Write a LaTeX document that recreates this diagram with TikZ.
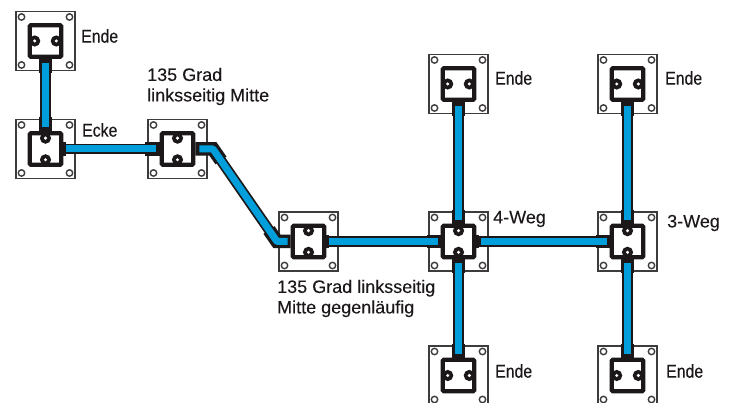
\documentclass[tikz,border=0pt]{standalone}
\usepackage{graphicx}
\usepackage{fontspec}
\setmainfont{Liberation Sans}[FakeBold=0.12]
\usetikzlibrary{calc}
\definecolor{cable}{RGB}{0,158,219}
\definecolor{ink}{RGB}{28,24,25}
\newcommand{\nar}[1]{\scalebox{.88}[1.03]{#1}}
\tikzset{
  plate/.style={draw=ink!85,line width=1.2pt,fill=white,minimum size=59pt,inner sep=0pt,outer sep=0pt},
  hole/.style={draw=ink!85,line width=1.4pt,fill=white},
  jbox/.style={draw=ink,line width=4.2pt,fill=white,rounded corners=1pt,minimum size=31.5pt,inner sep=0pt,outer sep=2.1pt},
  casing/.style={draw=ink,line width=10.5pt},
  stub/.style={draw=ink,line width=13.5pt},
  core/.style={draw=cable,line width=7pt},
  lbl/.style={font=\fontsize{18}{20.5}\selectfont,anchor=west,inner sep=0pt,align=left,text=ink},
}
% #1 name, #2 x, #3 y, #4 = 0 lugs top/bottom, 90 lugs left/right
\newcommand{\joint}[4]{%
  \node[plate] (#1p) at (#2,#3) {};
  \foreach \sx in {-24,24} \foreach \sy in {-24,24}
    \draw[hole] ($(#1p)+(\sx pt,\sy pt)$) circle (3.2pt);
  \node[jbox] (#1) at (#2,#3) {};
  \begin{scope}[shift={(#2,#3)},rotate=#4]
    \clip (-15.5,-15.5) rectangle (15.5,15.5);
    \fill[ink] (0,-10.8) circle (5.6pt) (0,10.8) circle (5.6pt);
    \fill[white] (0,-10.8) circle (1.7pt) (0,10.8) circle (1.7pt);
  \end{scope}
}
\begin{document}
\begin{tikzpicture}[x=1pt,y=-1pt]
\useasboundingbox (0,0) rectangle (732,403);
\joint{ea}{45.5}{41}{90}
\joint{ec}{45.5}{149}{0}
\joint{ma}{177.5}{149}{0}
\joint{mb}{308.5}{241.5}{0}
\joint{fw}{458.5}{241.5}{0}
\joint{tw}{627.5}{241.5}{0}
\joint{eb}{458.5}{84}{90}
\joint{ed}{627.5}{84}{90}
\joint{ee}{458.5}{375.5}{90}
\joint{ef}{627.5}{375.5}{90}
% vertical runs
\newcommand{\vrun}[2]{%
  \draw[stub] (#1.south) -- ++(0,14);
  \draw[stub] (#2.north) -- ++(0,-14);
  \draw[casing] (#1.south) -- (#2.north);
  \draw[core] ($(#1.south)+(0,4)$) -- ($(#2.north)+(0,-4)$);
}
\vrun{ea}{ec}
\vrun{eb}{fw}
\vrun{ed}{tw}
\vrun{fw}{ee}
\vrun{tw}{ef}
% horizontal runs
\draw[casing] (ec.east) -- (ma.west);
\draw[stub] (ec.east) -- ++(3,0);
\draw[stub] (ma.west) -- ++(-15,0);
\draw[core] ($(ec.east)+(3,0)$) -- ($(ma.west)+(-4,0)$);
\draw[casing] (mb.east) -- (fw.west);
\draw[stub] (mb.east) -- ++(3,0);
\draw[stub] (fw.west) -- ++(-14,0);
\draw[core] ($(mb.east)+(3,0)$) -- ($(fw.west)+(-3,0)$);
\draw[casing] (fw.east) -- (tw.west);
\draw[stub] (fw.east) -- ++(3,0);
\draw[stub] (tw.west) -- ++(-14,0);
\draw[core] ($(fw.east)+(5,0)$) -- ($(tw.west)+(-3,0)$);
% offset run
\coordinate (b1) at (213,149);
\coordinate (b2) at (277,241.5);
\coordinate (s1) at (221,160.5);
\coordinate (s2) at (269,230);
\draw[stub] (ma.east) -- (b1) -- (s1);
\draw[stub] (mb.west) -- (b2) -- (s2);
\draw[casing,line join=round] (b1) -- (b2);
\draw[core,line join=round] ($(ma.east)+(4,0)$) -- (b1) -- (b2) -- ($(mb.west)+(-3,0)$);
% labels
\node[lbl] (t1) at (81,36) {\nar{Ende}};
\node[lbl] (t2) at (82,130) {\nar{Ecke}};
\node[lbl] (t3) at (147,86.5) {135 Grad\\linksseitig Mitte};
\node[lbl] (t4) at (495,78) {\nar{Ende}};
\node[lbl] (t5) at (665,78) {\nar{Ende}};
\node[lbl] (t6) at (493,219) {4-Weg};
\node[lbl] (t7) at (667,223) {3-Weg};
\node[lbl] (t8) at (277,298.5) {135 Grad linksseitig\\Mitte gegenläufig};
\node[lbl] (t9) at (495,371) {\nar{Ende}};
\node[lbl] (t10) at (666,371) {\nar{Ende}};
\end{tikzpicture}
\end{document}
